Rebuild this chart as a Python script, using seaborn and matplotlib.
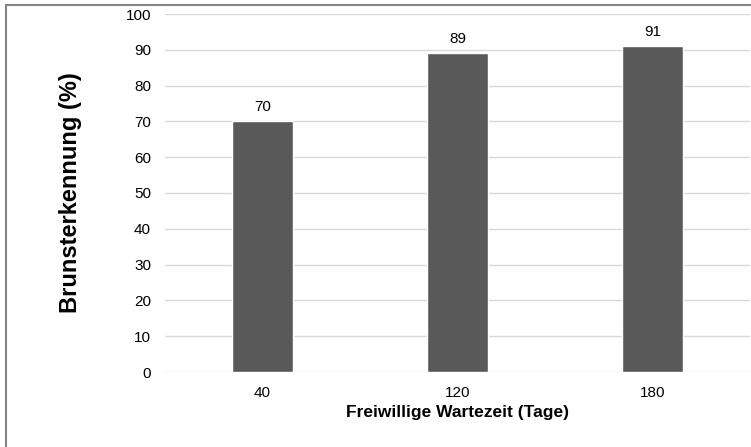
import matplotlib
matplotlib.use("Agg")
import matplotlib.pyplot as plt
from matplotlib.patches import Rectangle
import seaborn as sns
import pandas as pd

wartezeit = ["40", "120", "180"]
brunsterkennung = [70, 89, 91]
y_ticks = list(range(0, 101, 10))

sns.set_theme(style="white")
plt.rcParams["font.family"] = ["Liberation Sans", "DejaVu Sans"]
plt.rcParams["text.color"] = "black"
plt.rcParams["axes.labelcolor"] = "black"
plt.rcParams["xtick.color"] = "black"
plt.rcParams["ytick.color"] = "black"

df = pd.DataFrame({"Wartezeit": wartezeit, "Brunst": brunsterkennung})

fig = plt.figure(figsize=(7.51, 4.47), dpi=100)
ax = fig.add_axes([165 / 751, 1 - 372 / 447, 585 / 751, 358 / 447])

sns.barplot(data=df, x="Wartezeit", y="Brunst", order=wartezeit,
            color="#595959", saturation=1, width=0.31, ax=ax, zorder=3)

ax.set_ylim(0, 100)
ax.set_yticks(y_ticks)
ax.set_xlim(-0.5, len(wartezeit) - 0.5)
ax.yaxis.grid(True, color="#d9d9d9", linewidth=1.0, zorder=0)
ax.set_axisbelow(True)
for s in ax.spines.values():
    s.set_visible(False)
ax.tick_params(axis="both", length=0, labelsize=11)
ax.tick_params(axis="y", pad=10)
ax.tick_params(axis="x", pad=10)

for c in ax.containers:
    ax.bar_label(c, labels=[f"{v:g}" for v in c.datavalues], padding=5, fontsize=11)

ax.set_xlabel("Freiwillige Wartezeit (Tage)", fontsize=12.5, fontweight="bold")
ax.set_ylabel("Brunsterkennung (%)", fontsize=17, fontweight="bold")
ax.xaxis.set_label_coords(0.5, -0.092)
ax.yaxis.set_label_coords(-0.142, 0.5)

fig.patches.append(Rectangle((6.5 / 751, -0.1), 1.2, 1 - 4.5 / 447 + 0.1,
                             transform=fig.transFigure, fill=False,
                             edgecolor="#868686", linewidth=1.5))

fig.savefig("out.png", dpi=100)
